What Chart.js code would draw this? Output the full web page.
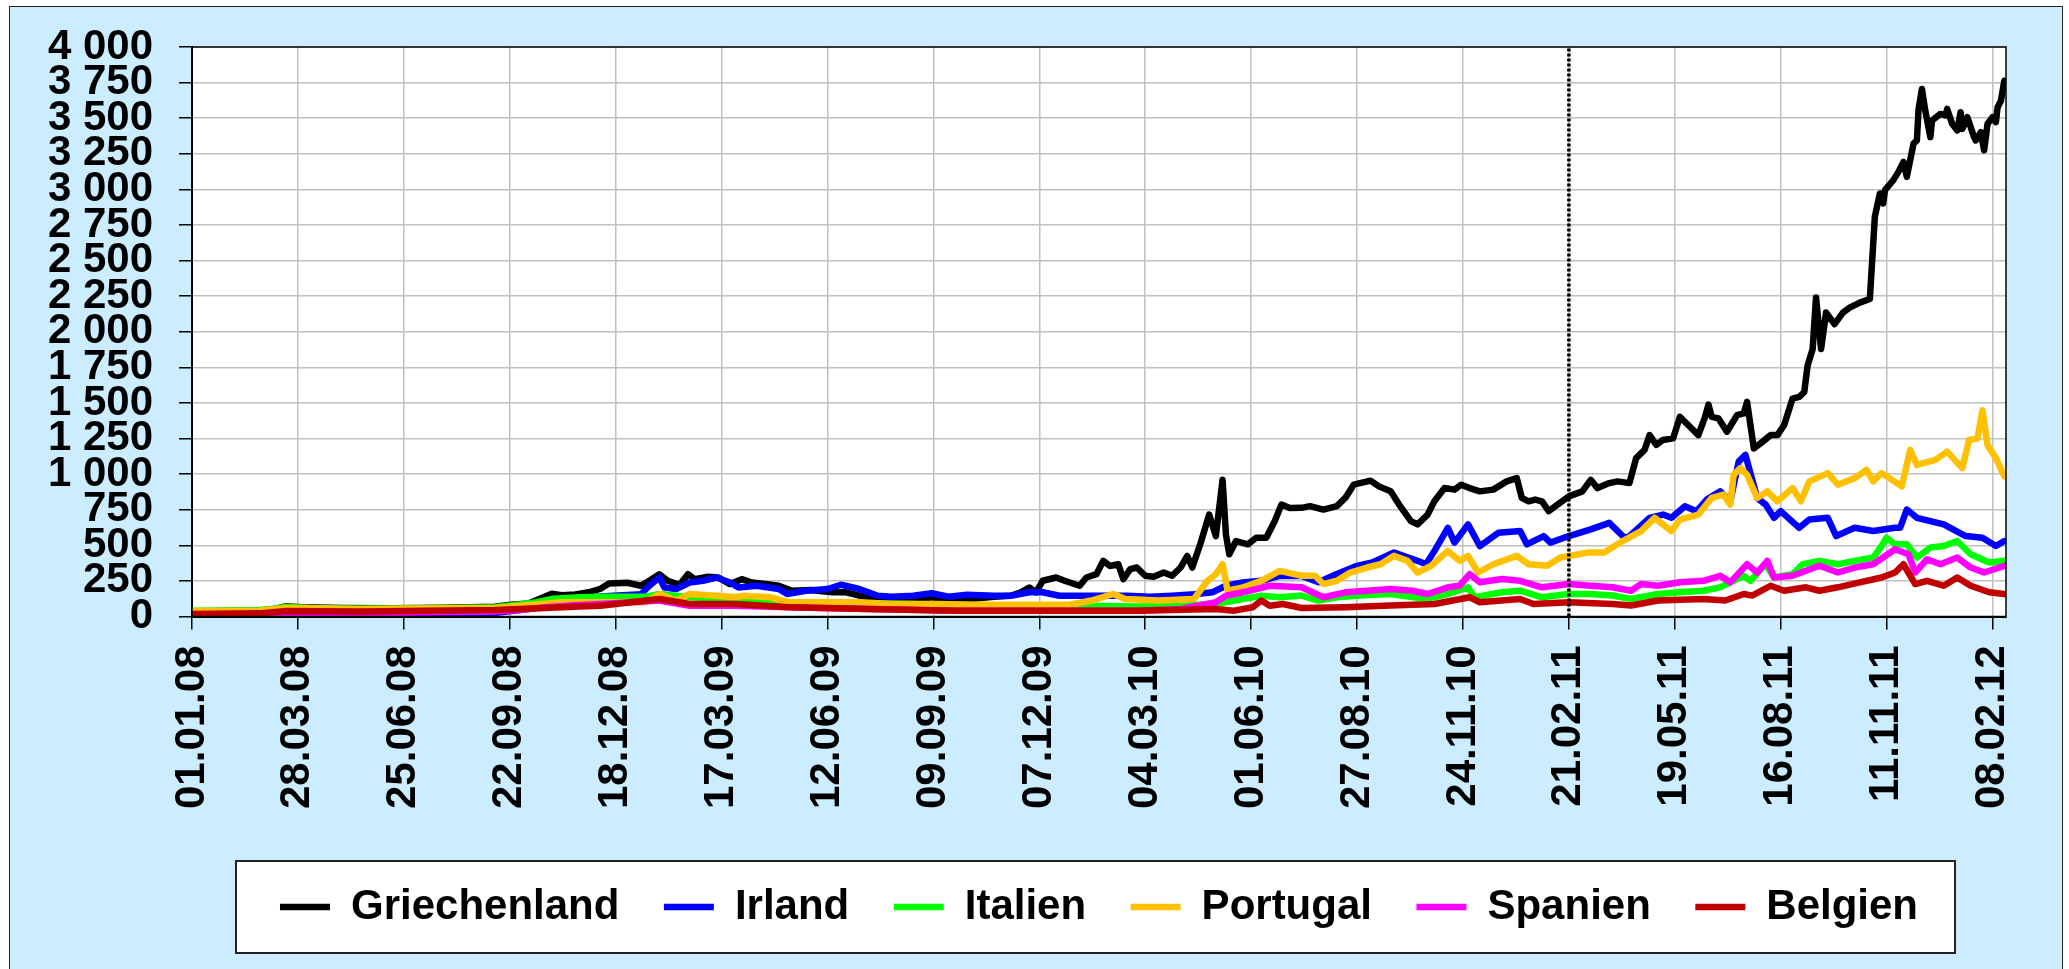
<!DOCTYPE html>
<html>
<head>
<meta charset="utf-8">
<script src="https://cdn.jsdelivr.net/npm/chart.js@4.4.1/dist/chart.umd.min.js"></script>
<style>
  html, body { margin: 0; padding: 0; background: #ffffff; }
  body { width: 2069px; height: 969px; position: relative; overflow: hidden; }
  #frame { position: absolute; left: 9px; top: 6px; width: 2054px; height: 966px; background: #CCECFF; border: 1.5px solid #222; box-sizing: border-box; }
  #c { position: absolute; left: 0; top: 0; }
</style>
</head>
<body>
<div id="frame"></div>
<canvas id="c" width="2069" height="969"></canvas>
<script>
// Category tick labels (one every 63 trading days)
const xTickLabels = ['01.01.08','28.03.08','25.06.08','22.09.08','18.12.08','17.03.09','12.06.09','09.09.09','07.12.09','04.03.10','01.06.10','27.08.10','24.11.10','21.02.11','19.05.11','16.08.11','11.11.11','08.02.12'];
const daysPerTick = 63;
const lastDay = 1079;
const yTickLabels = ['0','250','500','750','1 000','1 250','1 500','1 750','2 000','2 250','2 500','2 750','3 000','3 250','3 500','3 750','4 000'];
const markerLabel = '21.02.11';

const seriesNames = ['Griechenland','Irland','Italien','Portugal','Spanien','Belgien'];
const seriesColors = ['#000000','#0000FF','#00FF00','#FFC000','#FF00FF','#C00000'];

// [trading-day index, spread in basis points]
const griechenland = [[0,35],[20,38],[40,42],[50,55],[56,72],[65,65],[90,60],[120,58],[150,62],[180,68],[190,82],[200,92],[208,130],[214,160],[220,150],[228,155],[236,170],[243,195],[248,232],[259,237],[267,216],[272,251],[278,297],[283,251],[290,223],[295,297],[299,262],[307,279],[313,274],[320,228],[327,262],[333,239],[341,228],[349,216],[357,181],[368,186],[381,170],[389,170],[397,146],[408,123],[416,107],[429,116],[440,135],[450,112],[463,123],[477,139],[487,146],[493,170],[498,204],[502,170],[506,251],[514,274],[519,251],[528,216],[532,274],[538,297],[542,390],[546,355],[551,367],[554,262],[558,332],[562,344],[567,286],[572,279],[578,309],[583,286],[588,344],[592,425],[595,344],[600,518],[605,716],[609,565],[613,960],[615,576],[617,437],[621,530],[628,507],[633,553],[639,553],[644,669],[648,786],[653,762],[660,763],[665,775],[673,751],[681,775],[686,833],[691,926],[701,954],[706,914],[713,879],[718,786],[725,670],[729,647],[735,716],[739,809],[745,902],[751,891],[755,926],[760,902],[766,879],[774,891],[782,949],[788,972],[791,833],[795,809],[799,821],[803,809],[807,740],[811,775],[819,844],[827,879],[832,960],[836,902],[843,937],[848,949],[855,937],[859,1112],[864,1170],[867,1274],[871,1205],[875,1240],[881,1251],[885,1402],[891,1333],[896,1274],[900,1402],[902,1488],[904,1402],[908,1391],[913,1298],[919,1414],[923,1426],[925,1507],[929,1181],[933,1216],[939,1274],[943,1274],[947,1344],[952,1530],[956,1542],[959,1577],[961,1763],[964,1879],[966,2241],[969,1879],[972,2135],[977,2053],[982,2135],[986,2170],[992,2205],[998,2230],[1001,2809],[1004,2971],[1006,2902],[1007,2995],[1012,3065],[1015,3123],[1018,3193],[1020,3088],[1024,3321],[1026,3344],[1027,3565],[1029,3705],[1031,3553],[1034,3367],[1035,3484],[1040,3530],[1043,3519],[1044,3565],[1047,3460],[1050,3414],[1052,3542],[1053,3425],[1056,3507],[1058,3437],[1060,3367],[1061,3344],[1064,3402],[1066,3274],[1068,3460],[1071,3507],[1073,3472],[1074,3577],[1076,3623],[1078,3763]];

const irland = [[0,12],[40,15],[56,22],[100,20],[180,25],[195,45],[205,60],[215,90],[225,110],[235,130],[243,140],[267,156],[272,216],[278,274],[281,204],[288,193],[296,239],[304,251],[312,274],[320,239],[325,204],[336,216],[349,193],[354,158],[365,181],[378,193],[386,223],[397,193],[408,146],[416,139],[429,146],[440,163],[450,139],[461,153],[477,146],[487,146],[498,170],[506,170],[516,146],[530,146],[543,146],[556,146],[570,139],[583,146],[596,156],[607,170],[615,216],[625,239],[636,251],[647,286],[660,285],[670,240],[681,298],[693,356],[702,379],[715,449],[729,391],[734,367],[739,460],[747,623],[751,519],[759,647],[766,495],[777,588],[790,600],[794,507],[804,565],[808,519],[819,565],[832,612],[843,658],[851,565],[854,553],[867,693],[875,716],[880,693],[888,774],[895,740],[901,821],[909,879],[915,809],[920,1088],[924,1135],[931,833],[936,786],[941,693],[945,740],[956,623],[962,681],[973,693],[978,565],[989,623],[1000,600],[1013,623],[1016,623],[1020,751],[1026,693],[1042,647],[1055,565],[1065,553],[1073,495],[1078,530]];

const italien = [[0,40],[20,42],[40,45],[50,55],[56,68],[70,60],[100,55],[140,58],[180,65],[190,78],[205,100],[215,125],[230,135],[243,139],[270,139],[278,158],[296,135],[323,123],[355,100],[402,93],[429,88],[455,76],[482,76],[509,76],[535,76],[562,70],[588,76],[609,88],[620,112],[636,146],[647,135],[660,147],[670,112],[681,135],[694,147],[713,158],[734,123],[747,158],[759,205],[763,135],[779,170],[790,181],[803,135],[819,158],[832,158],[845,147],[856,123],[872,158],[885,170],[899,181],[909,205],[915,240],[923,286],[927,251],[936,367],[941,274],[952,298],[958,367],[968,391],[979,367],[989,391],[1000,414],[1005,495],[1008,553],[1013,507],[1020,507],[1026,414],[1034,484],[1042,495],[1050,530],[1058,437],[1069,379],[1078,391]];

const portugal = [[0,38],[40,40],[56,60],[100,52],[180,60],[205,85],[220,100],[243,100],[270,100],[278,158],[288,112],[296,158],[312,146],[323,135],[328,146],[344,135],[355,100],[376,100],[397,100],[416,88],[442,88],[469,83],[495,83],[522,83],[535,112],[548,158],[555,123],[575,112],[596,123],[604,251],[609,297],[613,367],[616,181],[625,204],[636,251],[647,320],[660,286],[668,286],[673,228],[681,251],[689,309],[699,344],[707,367],[715,426],[723,391],[729,309],[737,356],[747,460],[754,391],[759,426],[765,309],[774,367],[788,426],[795,367],[806,356],[814,414],[830,449],[840,449],[851,530],[862,600],[870,693],[880,600],[885,681],[896,716],[904,833],[911,856],[915,786],[917,995],[921,1042],[925,995],[931,833],[937,879],[943,809],[952,902],[957,809],[962,949],[973,1007],[979,926],[989,972],[996,1030],[1000,949],[1005,1007],[1017,914],[1022,1170],[1026,1065],[1037,1100],[1044,1158],[1053,1042],[1057,1240],[1062,1251],[1065,1449],[1068,1205],[1073,1112],[1078,984]];

const spanien = [[0,10],[40,12],[56,25],[100,22],[180,35],[195,45],[210,65],[230,80],[243,88],[278,112],[296,76],[323,76],[355,65],[402,53],[455,41],[509,41],[562,41],[588,53],[609,100],[615,146],[625,170],[641,216],[660,205],[673,135],[686,170],[699,181],[713,193],[726,181],[735,158],[747,205],[754,216],[760,298],[766,240],[779,263],[790,251],[803,205],[819,228],[832,216],[845,205],[856,181],[862,228],[872,216],[885,240],[899,251],[909,286],[915,240],[925,367],[931,309],[937,391],[941,274],[952,286],[960,321],[968,356],[979,309],[989,344],[1000,367],[1013,472],[1021,437],[1025,309],[1032,402],[1040,367],[1050,414],[1058,344],[1066,309],[1078,356]];

const belgien = [[0,18],[40,22],[56,38],[100,35],[180,45],[210,60],[230,70],[243,76],[278,123],[296,88],[323,88],[355,65],[402,53],[455,41],[509,41],[562,41],[609,53],[620,41],[631,65],[636,112],[641,76],[649,88],[660,60],[686,65],[713,77],[739,88],[760,135],[766,100],[790,123],[798,88],[819,100],[845,88],[856,77],[872,112],[899,123],[912,112],[923,158],[928,147],[939,216],[947,181],[960,205],[968,181],[979,205],[992,240],[1005,274],[1013,309],[1018,367],[1025,228],[1032,251],[1042,216],[1050,274],[1058,216],[1069,170],[1078,158]];

const seriesData = [griechenland, irland, italien, portugal, spanien, belgien];

const FONT = '"Liberation Sans", Arial, Helvetica, sans-serif';
const markerDay = xTickLabels.indexOf(markerLabel) * daysPerTick;

const datasets = seriesNames.map((name, i) => ({
  label: name,
  data: seriesData[i],
  borderColor: seriesColors[i],
  backgroundColor: seriesColors[i],
  borderWidth: 6.5,
  borderCapStyle: 'round',
  borderJoinStyle: 'round',
  pointRadius: 0,
  tension: 0,
  fill: false,
  order: seriesNames.length - i
}));
datasets.push({
  label: 'marker',
  data: [[markerDay, 0], [markerDay, 4000]],
  borderColor: '#000000',
  borderWidth: 3.5,
  borderDash: [3, 2],
  pointRadius: 0,
  fill: false,
  order: 0
});

const framePlugin = {
  id: 'framePlugin',
  beforeDraw(chart) {
    const ctx = chart.ctx;
    const a = chart.chartArea;
    ctx.save();
    ctx.fillStyle = '#ffffff';
    ctx.fillRect(a.left, a.top, a.right - a.left, a.bottom - a.top);
    const hb = chart.legend && chart.legend.legendHitBoxes;
    if (hb && hb.length) {
      const first = hb[0], last = hb[hb.length - 1];
      const l = first.left - 44, r = last.left + last.width + 37;
      const t = first.top - 25, b = first.top + first.height + 25;
      ctx.fillRect(l, t, r - l, b - t);
      ctx.strokeStyle = '#222';
      ctx.lineWidth = 2;
      ctx.strokeRect(l, t, r - l, b - t);
    }
    ctx.restore();
  },
  afterDraw(chart) {
    const ctx = chart.ctx;
    const a = chart.chartArea;
    ctx.save();
    ctx.strokeStyle = '#000';
    ctx.lineWidth = 1.5;
    ctx.strokeRect(a.left, a.top, a.right - a.left, a.bottom - a.top);
    ctx.restore();
  }
};

new Chart(document.getElementById('c'), {
  type: 'line',
  data: { datasets },
  plugins: [framePlugin],
  options: {
    responsive: false,
    devicePixelRatio: 1,
    animation: false,
    layout: { padding: { left: 48, right: 63, top: 46, bottom: 31 } },
    plugins: {
      tooltip: { enabled: false },
      title: { display: false },
      legend: {
        position: 'bottom',
        fullSize: false,
        labels: {
          filter: (item) => item.text !== 'marker',
          sort: (a, b) => a.datasetIndex - b.datasetIndex,
          usePointStyle: true,
          pointStyle: 'line',
          pointStyleWidth: 50,
          padding: 44.5,
          color: '#000',
          font: { family: FONT, size: 42, weight: 'bold', lineHeight: 1 }
        }
      }
    },
    scales: {
      x: {
        type: 'linear',
        min: 0,
        max: lastDay,
        afterBuildTicks: (scale) => { scale.ticks = xTickLabels.map((l, i) => ({ value: i * daysPerTick })); },
        afterFit: (scale) => { scale.height = 225; },
        ticks: {
          autoSkip: false,
          minRotation: 90,
          maxRotation: 90,
          padding: 16,
          color: '#000',
          font: { family: FONT, size: 42, weight: 'bold', lineHeight: 1 },
          callback: (v) => xTickLabels[Math.round(v / daysPerTick)]
        },
        grid: { color: '#C0C0C0', lineWidth: 1.5, tickLength: 13, tickColor: '#000', tickWidth: 1.5 },
        border: { display: true, color: '#000', width: 2 }
      },
      y: {
        min: 0,
        max: 4000,
        afterFit: (scale) => { scale.width = 144; },
        ticks: {
          stepSize: 250,
          autoSkip: false,
          padding: 26,
          color: '#000',
          font: { family: FONT, size: 42, weight: 'bold', lineHeight: 1 },
          callback: (v, i) => yTickLabels[Math.round(v / 250)]
        },
        grid: { color: '#C0C0C0', lineWidth: 1.5, tickLength: 13, tickColor: '#000', tickWidth: 1.5 },
        border: { display: true, color: '#000', width: 2 }
      }
    }
  }
});
</script>
</body>
</html>
